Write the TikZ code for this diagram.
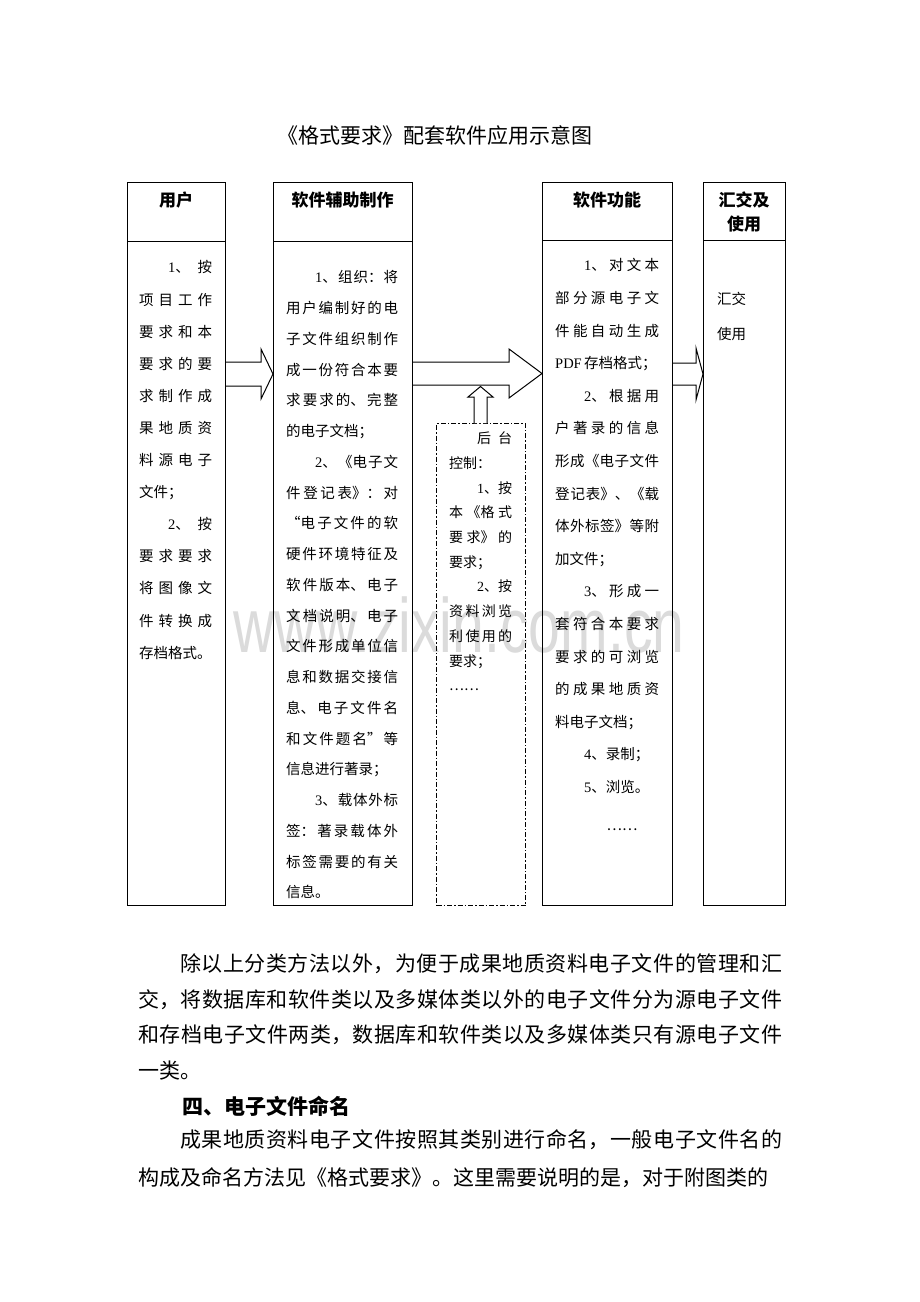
\documentclass[tikz,border=0pt]{standalone}
\usepackage{fontspec}
\setmainfont{Noto Sans CJK SC}
\newfontfamily\latf{Liberation Serif}
\newfontfamily\wmf{Liberation Sans}
\XeTeXlinebreaklocale "zh"
\XeTeXlinebreakskip=0pt plus 30pt
\tolerance=10000
\hbadness=10000
\newcommand\D[1]{{\latf #1}}
\newcommand\BR{\linebreak}
\tikzset{
  box/.style={draw, line width=1pt, inner sep=0pt, anchor=north west},
  dashbox/.style={draw, line width=1pt, inner sep=0pt, anchor=north west,
    dash pattern=on 5pt off 2pt on 1.5pt off 2pt},
  bodytxt/.style={anchor=north west, inner sep=0pt, align=justify,
    font=\fontsize{14.5}{#1}\selectfont},
  head/.style={font=\fontsize{17}{24}\selectfont\bfseries, align=center, inner sep=0pt},
  barrow/.style={draw, line width=1pt, fill=white, line join=miter},
  sep/.style={line width=1pt},
}
\begin{document}
\begin{tikzpicture}[x=1pt, y=-1pt]
\fill[white] (0,0) rectangle (920,1302);
\useasboundingbox (0,0) rectangle (920,1302);

% watermark
\node[anchor=base, inner sep=0pt, text=black!14, font=\wmf\fontsize{77}{77}\selectfont,
  xscale=0.742, transform shape] (wm) at (459,652) {www.zixin.com.cn};

% title
\node[font=\fontsize{21}{21}\selectfont, inner sep=0pt] (title) at (435,135) {《格式要求》配套软件应用示意图};

% column boxes
\node[box, minimum width=98, minimum height=723] (user) at (127,182) {};
\node[box, minimum width=139, minimum height=723] (soft) at (273,182) {};
\node[box, minimum width=130, minimum height=723] (func) at (542,182) {};
\node[box, minimum width=82, minimum height=723] (use) at (703,182) {};
\node[dashbox, minimum width=89, minimum height=482] (ctrl) at (436,423) {};

\draw[sep] (user.west |- 0,241) -- (user.east |- 0,241);
\draw[sep] (soft.west |- 0,241) -- (soft.east |- 0,241);
\draw[sep] (func.west |- 0,240) -- (func.east |- 0,240);
\draw[sep] (use.west |- 0,240) -- (use.east |- 0,240);

% headers
\node[head] (h1) at (176,200) {用户};
\node[head] (h2) at (342.5,200) {软件辅助制作};
\node[head] (h3) at (607,200) {软件功能};
\node[head] (h4) at (744,212) {汇交及\\使用};

% block arrows
\draw[barrow] (user.east |- 0,362) -- (261,362) -- (261,349) -- (soft.west |- 0,374)
  -- (261,399) -- (261,386) -- (user.east |- 0,386);
\draw[barrow] (soft.east |- 0,362) -- (509,362) -- (509,349) -- (func.west |- 0,373.5)
  -- (509,398) -- (509,385) -- (soft.east |- 0,385);
\draw[barrow] (ctrl.north -| 474,0) -- (474,397) -- (468,397) -- (480.5,386.5)
  -- (493,397) -- (487,397) -- (ctrl.north -| 487,0);
\draw[barrow] (func.east |- 0,363) -- (696,363) -- (696,348) -- (use.west |- 0,374)
  -- (696,400) -- (696,385) -- (func.east |- 0,385);

% column texts
\node[bodytxt=32.1, text width=73] (t1) at (139,260.5) {%
\hspace*{2em}\D{1}、按\BR
项目工作\BR
要求和本\BR
要求的要\BR
求制作成\BR
果地质资\BR
料源电子\BR
文件；\par
\hspace*{2em}\D{2}、按\BR
要求要求\BR
将图像文\BR
件转换成\BR
存档格式。};

\node[bodytxt=30.75, text width=112] (t2) at (286,270.5) {%
\hspace*{2em}\D{1}、组织：将\BR
用户编制好的电\BR
子文件组织制作\BR
成一份符合本要\BR
求要求的、完整\BR
的电子文档；\par
\hspace*{2em}\D{2}、《电子文\BR
件登记表》：对\BR
“电子文件的软\BR
硬件环境特征及\BR
软件版本、电子\BR
文档说明、电子\BR
文件形成单位信\BR
息和数据交接信\BR
息、电子文件名\BR
和文件题名”等\BR
信息进行著录；\par
\hspace*{2em}\D{3}、载体外标\BR
签：著录载体外\BR
标签需要的有关\BR
信息。};

\node[bodytxt=24.7, text width=63, font=\fontsize{14}{24.7}\selectfont] (tc) at (449,431.7) {%
\hspace*{2em}后台\BR
控制：\par
\hspace*{2em}\D{1}、按\BR
本《格式\BR
要求》的\BR
要求；\par
\hspace*{2em}\D{2}、按\BR
资料浏览\BR
利使用的\BR
要求；\par
……};

\node[bodytxt=32.6, text width=104] (t3) at (555,258.5) {%
\hspace*{2em}\D{1}、对文本\BR
部分源电子文\BR
件能自动生成\BR
\D{PDF}\,存档格式；\par
\hspace*{2em}\D{2}、根据用\BR
户著录的信息\BR
形成《电子文件\BR
登记表》、《载\BR
体外标签》等附\BR
加文件；\par
\hspace*{2em}\D{3}、形成一\BR
套符合本要求\BR
要求的可浏览\BR
的成果地质资\BR
料电子文档；\par
\hspace*{2em}\D{4}、录制；\par
\hspace*{2em}\D{5}、浏览。};
\node[inner sep=0pt, font=\fontsize{14.5}{14.5}\selectfont] (t3dots) at (622,830) {……};

\node[anchor=north west, inner sep=0pt, align=left, font=\fontsize{14.5}{35}\selectfont] (t4) at (717,291.5) {汇交\\使用};

% body text below
\node[anchor=north west, inner sep=0pt, text width=644, align=justify,
  font=\fontsize{21}{35.7}\selectfont] (p1) at (138,953.5) {%
\hspace*{2em}除以上分类方法以外，为便于成果地质资料电子文件的管理和汇\BR
交，将数据库和软件类以及多媒体类以外的电子文件分为源电子文件\BR
和存档电子文件两类，数据库和软件类以及多媒体类只有源电子文件\BR
一类。};
\node[anchor=north west, inner sep=0pt, font=\fontsize{21}{21}\selectfont\bfseries] (p2) at (182,1095.5) {四、电子文件命名};
\node[anchor=north west, inner sep=0pt, text width=644, align=justify,
  font=\fontsize{21}{38}\selectfont] (p3) at (138,1129.5) {%
\hspace*{2em}成果地质资料电子文件按照其类别进行命名，一般电子文件名的\BR
构成及命名方法见《格式要求》。这里需要说明的是，对于附图类的};
\end{tikzpicture}
\end{document}
